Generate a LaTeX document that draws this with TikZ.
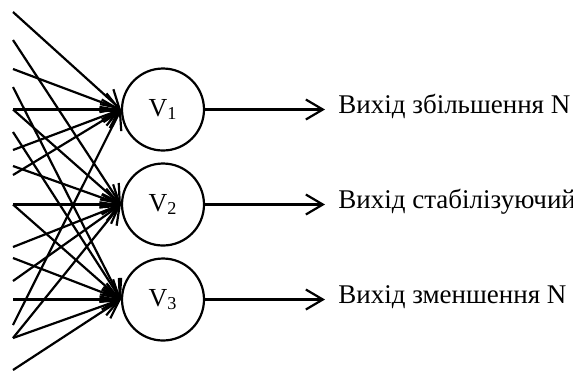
\documentclass[tikz,border=0pt]{standalone}
\usepackage{fontspec}
\setmainfont{Liberation Serif}
\usetikzlibrary{arrows.meta}
\tikzset{
  wire/.style={line width=1.1pt, -{Straight Barb[length=8.5pt,width=10pt,line width=1.1pt]}},
  neuron/.style={circle, draw, line width=1.1pt, minimum size=41pt, inner sep=0pt,
    font=\fontsize{13}{15}\selectfont},
  outtext/.style={inner sep=0pt, anchor=base west, font=\fontsize{13.5}{16}\selectfont}
}
\begin{document}
\begin{tikzpicture}[x=0.5pt,y=-0.5pt]
\useasboundingbox (0,0) rectangle (573,372);
% neurons
\node[neuron] (V1) at (163,109.5) {V\textsubscript{1}};
\node[neuron] (V2) at (163,204.5) {V\textsubscript{2}};
\node[neuron] (V3) at (163,299.5) {V\textsubscript{3}};
% input start points
\coordinate (s1) at (13,12);
\coordinate (s2) at (13,40);
\coordinate (s3) at (13,69);
\coordinate (s4) at (13,87);
\coordinate (s5) at (13,109.5);
\coordinate (s6) at (13,132);
\coordinate (s7) at (13,150);
\coordinate (s8) at (13,166);
\coordinate (s9) at (13,175);
\coordinate (s10) at (13,204.5);
\coordinate (s11) at (13,247);
\coordinate (s12) at (13,258);
\coordinate (s13) at (13,281);
\coordinate (s14) at (13,299.5);
\coordinate (s15) at (13,325);
\coordinate (s16) at (13,338);
\coordinate (s17) at (13,370);
% inputs to V1
\foreach \s in {s1,s3,s5,s7,s9,s15} \draw[wire] (\s) -- (V1.west);
% inputs to V2
\foreach \s in {s2,s5,s8,s10,s11,s13,s16} \draw[wire] (\s) -- (V2.west);
% inputs to V3
\foreach \s in {s4,s6,s10,s12,s14,s16,s17} \draw[wire] (\s) -- (V3.west);
% outputs
\coordinate (o1) at (325,109.5);
\coordinate (o2) at (325,204.5);
\coordinate (o3) at (325,299.5);
\draw[wire] (V1.east) -- (o1);
\draw[wire] (V2.east) -- (o2);
\draw[wire] (V3.east) -- (o3);
\node[outtext] (t1) at (338,113) {Вихід збільшення N};
\node[outtext] (t2) at (338,208) {Вихід стабілізуючий};
\node[outtext] (t3) at (338,303) {Вихід зменшення N};
\end{tikzpicture}
\end{document}
